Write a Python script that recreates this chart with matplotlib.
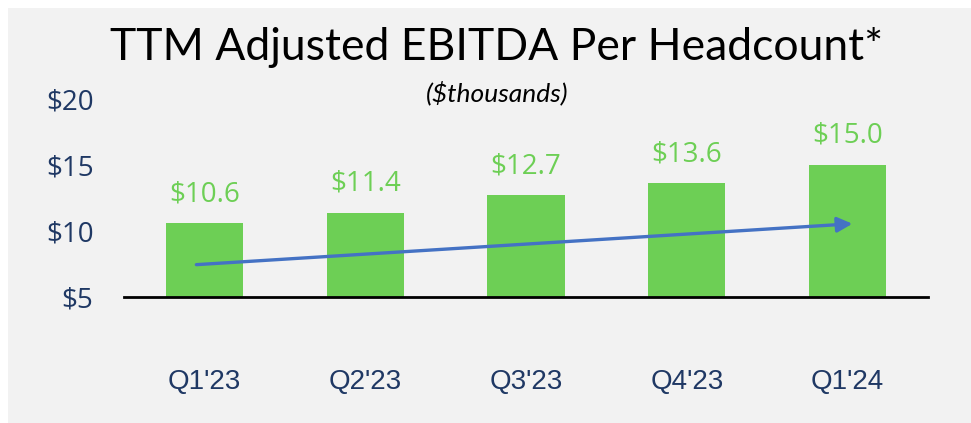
import matplotlib.pyplot as plt
from matplotlib.patches import Rectangle

quarters = ["Q1'23", "Q2'23", "Q3'23", "Q4'23", "Q1'24"]
ebitda = [10.6, 11.4, 12.7, 13.6, 15.0]
yticks = [5, 10, 15, 20]
trend_start = (-0.05, 7.45)
trend_end = (4.03, 10.55)

green = '#6dcf55'
navy = '#1f3864'
blue = '#4472c4'

fig = plt.figure(figsize=(9.71, 4.23), dpi=100)
fig.patch.set_facecolor('white')
# grey panel behind everything
fig.patches.append(Rectangle((8/971, 0), 1, 1 - 8/423, transform=fig.transFigure,
                             facecolor='#f2f2f2', edgecolor='none', zorder=-1))

ax = fig.add_axes([124/971, 1 - 297/423, (928-124)/971, (297-99)/423])
ax.set_facecolor('none')
x = range(len(quarters))
heights = [v - 5 for v in ebitda]
ax.bar(x, heights, bottom=5, width=0.48, color=green, zorder=2)
for i, v in zip(x, ebitda):
    ax.text(i, v + 2.2, "$%.1f" % v, ha='center', va='center', color=green,
            fontsize=20, family='Open Sans')

ax.annotate('', xy=trend_end, xytext=trend_start,
            arrowprops=dict(arrowstyle='-|>,head_length=0.9,head_width=0.45',
                            color=blue, lw=2.4, shrinkA=0, shrinkB=0), zorder=3)

ax.set_xlim(-0.5, 4.5)
ax.set_ylim(5, 20)
ax.set_yticks(yticks)
ax.set_yticklabels(["$%d" % t for t in yticks], fontsize=20, color=navy, family='Open Sans')
ax.set_xticks(list(x))
ax.set_xticklabels(quarters, fontsize=20, color=navy, family='Liberation Sans')
ax.tick_params(axis='both', length=0)
ax.tick_params(axis='x', pad=52)
ax.tick_params(axis='y', pad=22)
for s in ['top', 'right', 'left']:
    ax.spines[s].set_visible(False)
ax.spines['bottom'].set_linewidth(2)
ax.spines['bottom'].set_color('black')

fig.text(497/971, 1 - 47/423, "TTM Adjusted EBITDA Per Headcount*", ha='center',
         va='center', fontsize=32, family='Lato', color='black')
fig.text(497/971, 1 - 93/423, "($thousands)", ha='center', va='center',
         fontsize=19, style='italic', family='Lato', color='black')

fig.savefig('out.png', dpi=100)
